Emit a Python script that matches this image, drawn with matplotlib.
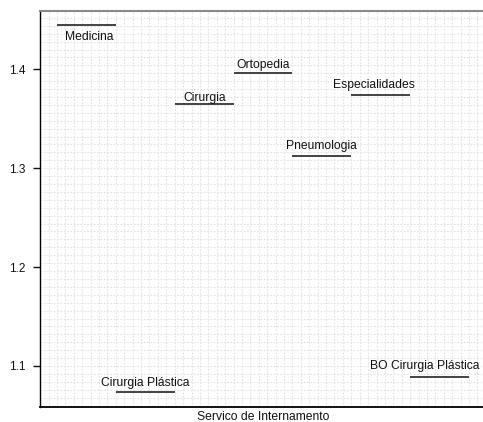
import numpy as np
import matplotlib
matplotlib.use("Agg")
import matplotlib.pyplot as plt

categories = ["Medicina", "Cirurgia Plástica", "Cirurgia", "Ortopedia",
              "Pneumologia", "Especialidades", "BO Cirurgia Plástica"]
values = [1.4445, 1.0734, 1.3646, 1.396, 1.3121, 1.3743, 1.0889]
yticks = [1.1, 1.2, 1.3, 1.4]
xlabel = "Servico de Internamento"

# label offsets in pixels (dx, dy of baseline relative to segment)
label_offsets = [(3, -15), (0, 6.6), (1, 3.6), (0, 5), (0, 7), (-7, 7), (-15, 7.7)]

plt.rcParams['font.family'] = ['Liberation Sans', 'DejaVu Sans']
fig = plt.figure(figsize=(4.83, 4.22), dpi=100)
W, H = 483, 422
ax = fig.add_axes([40 / W, 15 / H, 446 / W, 396 / H])

ax.set_xlim(-0.789, 6.789)
ax.set_ylim(1.0585, 1.459)

# grid
for gx in np.arange(-0.5 - 1 / 7, 6.8, 1 / 7):
    ax.axvline(gx, color='#e3e3e3', lw=0.8, ls=(0, (1.5, 1.5)), zorder=0)
for gy in np.arange(1.06, 1.46, 0.008):
    ax.axhline(gy, color='#e3e3e3', lw=0.8, ls=(0, (1.5, 1.5)), zorder=0)

for i, (name, v) in enumerate(zip(categories, values)):
    ax.hlines(v, i - 0.5, i + 0.5, color='#111111', lw=1.1, zorder=3)
    dx, dy = label_offsets[i]
    ax.annotate(name, xy=(i, v), xytext=(dx * 0.72, dy * 0.72),
                textcoords='offset points', ha='center', va='baseline',
                fontsize=8.7, color='#111111', zorder=4)

ax.set_yticks(yticks)
ax.set_yticklabels([f"{t:.1f}" for t in yticks])
ax.set_xticks([])
ax.tick_params(axis='y', length=5, width=1, pad=5.5, labelsize=8.5, colors='#111111')
ax.set_xlabel(xlabel, fontsize=8.7, labelpad=3, color='#111111')

ax.spines['left'].set_color('black')
ax.spines['left'].set_linewidth(1)
ax.spines['bottom'].set_color('black')
ax.spines['bottom'].set_linewidth(1.3)
ax.spines['top'].set_color('#8a8a8a')
ax.spines['top'].set_linewidth(1.5)
ax.spines['right'].set_visible(False)

fig.savefig("out.png", dpi=100)
